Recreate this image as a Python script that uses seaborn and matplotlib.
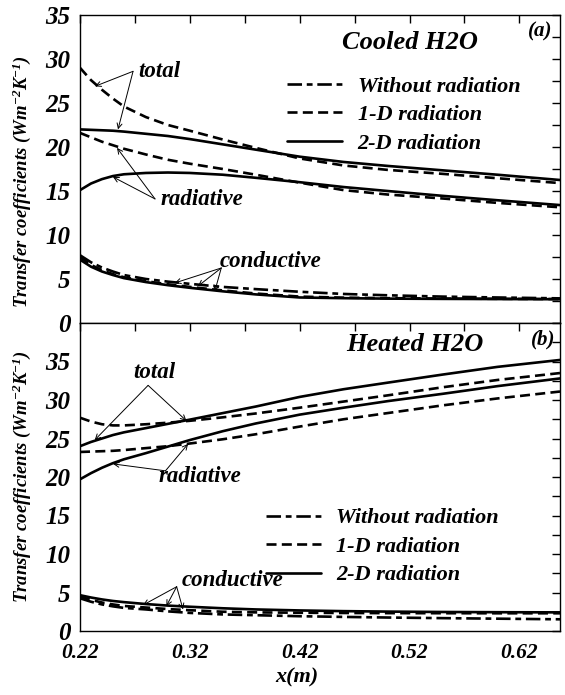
import numpy as np
import pandas as pd
import matplotlib
matplotlib.use("Agg")
import matplotlib.pyplot as plt
from matplotlib.lines import Line2D
from matplotlib.ticker import MultipleLocator, FixedLocator
import seaborn as sns

# ---------------- data ----------------
x = [0.22, 0.23, 0.24, 0.25, 0.26, 0.28, 0.30, 0.32, 0.35, 0.38, 0.42, 0.46, 0.50, 0.55, 0.60, 0.657]

# (a) Cooled H2O
cool_total_1d = [29.0, 27.6, 26.5, 25.5, 24.6, 23.4, 22.5, 21.85, 20.85, 19.9, 18.7, 17.9, 17.4, 16.95, 16.45, 15.9]
cool_total_2d = [22.0, 21.95, 21.9, 21.85, 21.75, 21.5, 21.25, 20.9, 20.3, 19.7, 18.9, 18.3, 17.85, 17.35, 16.85, 16.25]
cool_rad_1d = [21.6, 21.1, 20.6, 20.2, 19.8, 19.15, 18.55, 18.1, 17.5, 16.85, 15.95, 15.1, 14.6, 14.15, 13.65, 13.15]
cool_rad_2d = [15.1, 15.85, 16.35, 16.7, 16.9, 17.05, 17.1, 17.05, 16.85, 16.5, 16.0, 15.45, 15.0, 14.45, 13.95, 13.4]
cool_cond_none = [7.7, 6.9, 6.3, 5.85, 5.45, 5.0, 4.7, 4.45, 4.1, 3.85, 3.55, 3.3, 3.15, 3.0, 2.9, 2.8]
cool_cond_1d = [7.5, 6.6, 6.0, 5.55, 5.2, 4.75, 4.4, 4.1, 3.7, 3.35, 3.0, 2.88, 2.82, 2.78, 2.75, 2.72]
cool_cond_2d = [7.2, 6.4, 5.85, 5.45, 5.1, 4.65, 4.3, 4.0, 3.6, 3.25, 2.9, 2.82, 2.77, 2.74, 2.72, 2.7]

# (b) Heated H2O
heat_total_1d = [27.7, 27.2, 26.85, 26.7, 26.7, 26.85, 27.05, 27.3, 27.75, 28.25, 29.0, 29.8, 30.6, 31.65, 32.6, 33.5]
heat_total_2d = [24.0, 24.55, 25.0, 25.45, 25.8, 26.35, 26.9, 27.45, 28.3, 29.15, 30.4, 31.4, 32.25, 33.3, 34.3, 35.2]
heat_rad_1d = [23.25, 23.3, 23.35, 23.4, 23.5, 23.75, 24.0, 24.35, 24.9, 25.55, 26.55, 27.5, 28.3, 29.3, 30.2, 31.1]
heat_rad_2d = [19.7, 20.5, 21.2, 21.8, 22.3, 23.1, 23.95, 24.8, 25.95, 26.95, 28.1, 29.0, 29.85, 30.8, 31.8, 32.8]
heat_cond_none = [4.25, 3.8, 3.45, 3.2, 3.0, 2.8, 2.55, 2.35, 2.15, 2.05, 1.92, 1.83, 1.75, 1.67, 1.6, 1.52]
heat_cond_1d = [4.45, 4.05, 3.7, 3.45, 3.25, 3.05, 2.85, 2.7, 2.5, 2.42, 2.37, 2.34, 2.32, 2.31, 2.3, 2.3]
heat_cond_2d = [4.65, 4.35, 4.1, 3.9, 3.75, 3.5, 3.3, 3.15, 2.95, 2.8, 2.67, 2.58, 2.52, 2.47, 2.44, 2.42]

legend_labels = ["Without radiation", "1-D radiation", "2-D radiation"]
xticks = [0.22, 0.32, 0.42, 0.52, 0.62]
xtick_labels = ["0.22", "0.32", "0.42", "0.52", "0.62"]
yticks = [0, 5, 10, 15, 20, 25, 30, 35]

# ---------------- style ----------------
sns.set_theme(style="white")
plt.rcParams.update({
    "font.family": ["Liberation Serif", "DejaVu Serif"],
    "font.weight": "bold",
    "font.style": "italic",
    "mathtext.fontset": "custom",
    "mathtext.rm": "Liberation Serif:italic:bold",
    "mathtext.it": "Liberation Serif:italic:bold",
    "mathtext.bf": "Liberation Serif:italic:bold",
    "axes.edgecolor": "black",
    "axes.linewidth": 1.0,
    "text.color": "black",
    "xtick.color": "black",
    "ytick.color": "black",
})

LW = 1.9
LS_NONE = (0, (5.5, 1.8, 2.2, 1.8))
LS_1D = (0, (3.8, 2.0))
LS_2D = "-"

fig = plt.figure(figsize=(5.65, 6.95), dpi=100)
L, R = 80 / 565, 560 / 565
ax_a = fig.add_axes([L, 1 - 323 / 695, R - L, 308 / 695])
ax_b = fig.add_axes([L, 1 - 631 / 695, R - L, 308 / 695])


def draw(ax, y, ls):
    sns.lineplot(x=x, y=y, ax=ax, color="black", linewidth=LW, linestyle=ls,
                 sort=False, estimator=None)


for y in (cool_total_1d, cool_rad_1d, cool_cond_1d):
    draw(ax_a, y, LS_1D)
for y in (cool_total_2d, cool_rad_2d, cool_cond_2d):
    draw(ax_a, y, LS_2D)
draw(ax_a, cool_cond_none, LS_NONE)

for y in (heat_total_1d, heat_rad_1d, heat_cond_1d):
    draw(ax_b, y, LS_1D)
for y in (heat_total_2d, heat_rad_2d, heat_cond_2d):
    draw(ax_b, y, LS_2D)
draw(ax_b, heat_cond_none, LS_NONE)

for ax, ytop in ((ax_a, 35), (ax_b, 40)):
    ax.set_xlim(0.22, 0.657)
    ax.set_ylim(0, ytop)
    ax.xaxis.set_major_locator(FixedLocator(xticks))
    ax.xaxis.set_minor_locator(MultipleLocator(0.05, offset=0.02))
    ax.yaxis.set_major_locator(FixedLocator(yticks))
    ax.yaxis.set_minor_locator(MultipleLocator(2.5))
    ax.tick_params(which="both", direction="in", top=True, right=True,
                   length=6, width=1.0, color="black")
    ax.tick_params(axis="y", labelsize=18, pad=7)
    ax.tick_params(axis="x", labelsize=15.5, pad=9)
    ax.set_xlabel("")
    ax.set_ylabel("")
    for s in ax.spines.values():
        s.set_visible(True)
        s.set_color("black")

ax_a.tick_params(axis="x", labelbottom=False)
ax_b.set_xticklabels(xtick_labels)

# legends
handles = [Line2D([], [], color="black", lw=LW, linestyle=LS_NONE),
           Line2D([], [], color="black", lw=LW, linestyle=LS_1D),
           Line2D([], [], color="black", lw=LW, linestyle=LS_2D)]
for ax, bx, by in ((ax_a, 0.431, 0.802), (ax_b, 0.387, 0.40)):
    ax.legend(handles, legend_labels, loc="upper left", bbox_to_anchor=(bx, by),
              frameon=False, fontsize=16, handlelength=2.5, handletextpad=0.68,
              labelspacing=0.36, borderpad=0, borderaxespad=0)

# titles and panel labels
ax_a.text(0.6875, 0.912, "Cooled H2O", transform=ax_a.transAxes, ha="center",
          va="center", fontsize=19)
ax_a.text(0.958, 0.945, "(a)", transform=ax_a.transAxes, ha="center",
          va="center", fontsize=15)
ax_b.text(0.698, 0.929, "Heated H2O", transform=ax_b.transAxes, ha="center",
          va="center", fontsize=19)
ax_b.text(0.965, 0.948, "(b)", transform=ax_b.transAxes, ha="center",
          va="center", fontsize=15)

# annotations
ARW = dict(arrowstyle="->", lw=0.7, color="black", shrinkA=0, shrinkB=0,
           mutation_scale=9)


def note(ax, label, tx, ty, origin, targets, ha="left"):
    ax.text(tx, ty, label, ha=ha, va="center", fontsize=16.5)
    for t in targets:
        ax.annotate("", xy=t, xytext=origin, arrowprops=ARW)


note(ax_a, "total", 0.2728, 28.6, (0.2683, 28.6), [(0.2337, 26.9), (0.2546, 22.0)])
note(ax_a, "radiative", 0.2929, 14.0, (0.2883, 14.1), [(0.2500, 16.6), (0.2537, 19.9)])
note(ax_a, "conductive", 0.3473, 6.97, (0.3486, 6.25),
     [(0.3063, 4.55), (0.3275, 4.2), (0.3427, 3.6)])

note(ax_b, "total", 0.2879, 33.6, (0.282, 31.9), [(0.2334, 24.8), (0.3169, 27.3)], ha="center")
note(ax_b, "radiative", 0.2911, 20.0, (0.2978, 20.8), [(0.2501, 21.7), (0.3184, 24.3)])
note(ax_b, "conductive", 0.313, 6.6, (0.308, 5.75),
     [(0.2774, 3.37), (0.2986, 3.24), (0.3138, 2.8)])

# axis labels
ylab = "Transfer coefficients (Wm$^{-2}$K$^{-1}$)"
fig.text(22 / 565, 1 - 182 / 695, ylab, rotation=90, ha="center", va="center", fontsize=13.5)
fig.text(22 / 565, 1 - 477 / 695, ylab, rotation=90, ha="center", va="center", fontsize=13.5)
fig.text(297 / 565, 1 - 677 / 695, "x(m)", ha="center", va="center", fontsize=16)

fig.savefig("out.png", dpi=100)
